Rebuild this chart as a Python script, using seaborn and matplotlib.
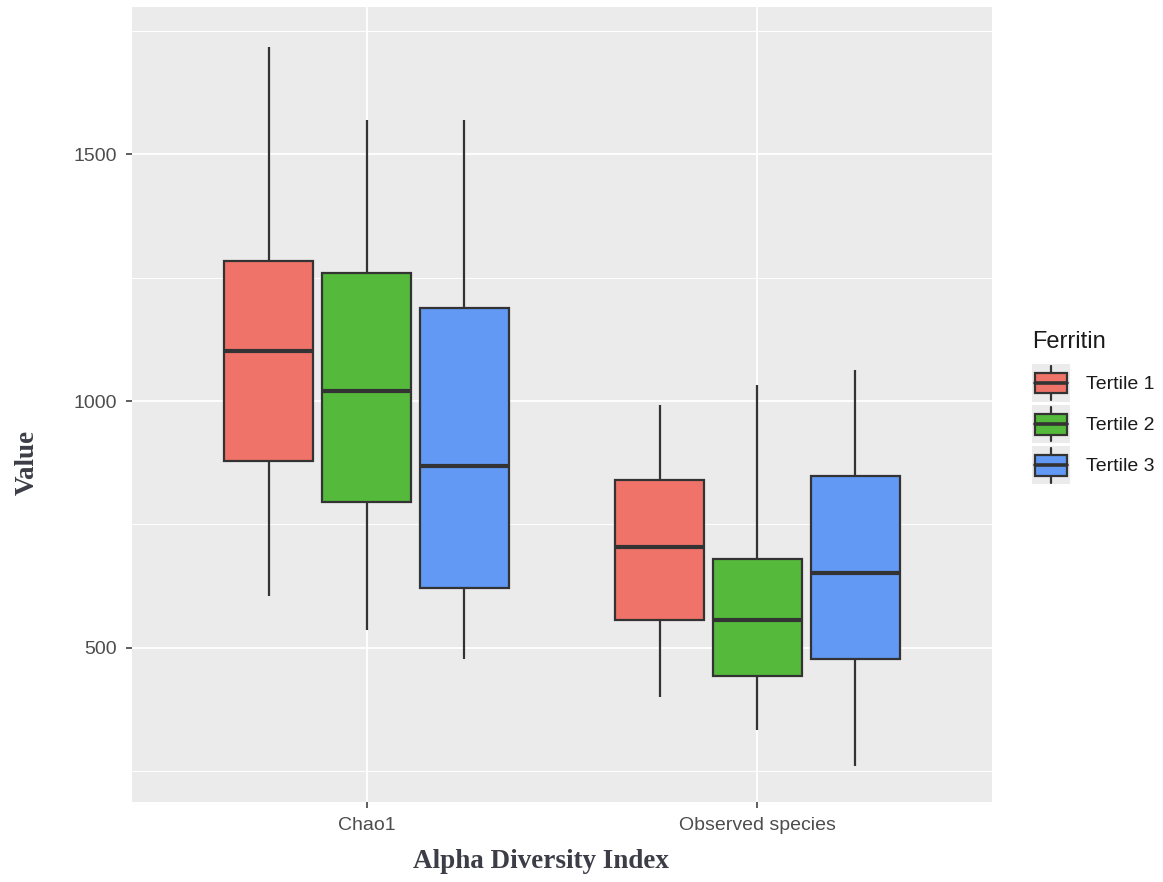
import numpy as np
import pandas as pd
import matplotlib
matplotlib.use("Agg")
import matplotlib.pyplot as plt
from matplotlib.patches import Rectangle, Patch
from matplotlib.lines import Line2D
from matplotlib.legend_handler import HandlerBase
import seaborn as sns

# Alpha diversity summaries per index and ferritin tertile
indices = ["Chao1", "Observed species"]
tertiles = ["Tertile 1", "Tertile 2", "Tertile 3"]

# Five-number summaries, ordered [Chao1 T1, T2, T3, Observed T1, T2, T3]
whisker_low = [606, 536, 477, 401, 333, 261]
q1 = [878, 795, 621, 556, 443, 478]
median = [1102, 1020, 869, 705, 556, 651]
q3 = [1284, 1259, 1189, 840, 680, 849]
whisker_high = [1716, 1570, 1570, 991, 1032, 1063]

palette = ["#F0736A", "#55BA3C", "#6199F5"]
line_col = "#333333"

rows = []
k = 0
for idx in indices:
    for t in tertiles:
        for v in (whisker_low[k], q1[k], median[k], q3[k], whisker_high[k]):
            rows.append({"Index": idx, "Ferritin": t, "Value": v})
        k += 1
df = pd.DataFrame(rows)

sns.set_theme(style="darkgrid")
plt.rcParams["font.family"] = ["Liberation Sans", "DejaVu Sans"]

fig = plt.figure(figsize=(11.63, 8.82), dpi=100)
ax = fig.add_axes([132 / 1163, 1 - 802 / 882, 860 / 1163, 795 / 882])
ax.set_facecolor("#EBEBEB")

sns.boxplot(
    data=df, x="Index", y="Value", hue="Ferritin",
    order=indices, hue_order=tertiles, palette=palette,
    width=0.75, gap=0.09, whis=np.inf, saturation=1,
    linecolor=line_col, linewidth=1.6,
    medianprops={"linewidth": 3.0, "color": line_col},
    whiskerprops={"linewidth": 1.6, "color": line_col},
    capprops={"linewidth": 0},
    legend=False, ax=ax, zorder=3,
)

ax.set_xlim(-0.6, 1.6)
ax.set_ylim(188, 1798)
ax.set_yticks([500, 1000, 1500])
ax.set_yticks([250, 750, 1250, 1750], minor=True)

ax.grid(False)
ax.grid(True, which="major", axis="both", color="white", linewidth=1.3, zorder=0)
ax.grid(True, which="minor", axis="y", color="white", linewidth=0.7, zorder=0)
ax.set_axisbelow(True)
for s in ax.spines.values():
    s.set_visible(False)

ax.tick_params(axis="both", which="major", length=4, width=1.1, color="#333333",
               labelsize=14, labelcolor="#4D4D4D", pad=7, direction="out",
               left=True, bottom=True)
ax.tick_params(axis="both", which="minor", length=0)

title_font = {"family": ["Liberation Serif", "DejaVu Serif"], "weight": "bold",
              "size": 19.5, "color": "#3d3d48"}
ax.set_xlabel("Alpha Diversity Index", fontdict=title_font, va="center")
ax.set_ylabel("Value", fontdict=title_font, va="center")
ax.xaxis.set_label_coords((541 - 132) / 860, -(861 - 802) / 795)
ax.yaxis.set_label_coords(-(132 - 27) / 860, (802 - 462) / 795)


class BoxKeyHandler(HandlerBase):
    """Legend key drawn as a miniature boxplot on a grey tile."""

    def create_artists(self, legend, orig_handle, xdescent, ydescent,
                       width, height, fontsize, trans):
        fc = orig_handle.get_facecolor()
        x0, y0 = -xdescent, -ydescent
        bg = Rectangle((x0, y0), width, height,
                       facecolor="#EBEBEB", edgecolor="none", transform=trans)
        bx0 = x0 + width * 0.08
        bw = width * 0.84
        by0 = y0 + height * 0.23
        bh = height * 0.54
        box = Rectangle((bx0, by0), bw, bh, facecolor=fc,
                        edgecolor=line_col, linewidth=1.6, transform=trans)
        cx = x0 + width / 2
        w_lo = Line2D([cx, cx], [y0 + height * 0.05, by0],
                      color=line_col, linewidth=1.6, transform=trans)
        w_hi = Line2D([cx, cx], [by0 + bh, y0 + height * 0.95],
                      color=line_col, linewidth=1.6, transform=trans)
        med = Line2D([bx0, bx0 + bw], [by0 + bh / 2, by0 + bh / 2],
                     color=line_col, linewidth=2.6, transform=trans)
        return [bg, box, w_lo, w_hi, med]


handles = [Patch(facecolor=c, label=t) for c, t in zip(palette, tertiles)]
leg = fig.legend(
    handles=handles, labels=tertiles, title="Ferritin",
    handler_map={Patch: BoxKeyHandler()},
    loc="upper left", bbox_to_anchor=(1024 / 1163, 1 - 323 / 882),
    frameon=False, fontsize=14, title_fontsize=17,
    handlelength=1.95, handleheight=2.65, labelspacing=0.15,
    handletextpad=0.85, borderaxespad=0,
)
leg.get_title().set_color("#1a1a1a")
leg._legend_box.align = "left"
leg._legend_box.sep = 8
for txt in leg.get_texts():
    txt.set_color("#1a1a1a")

fig.savefig("out.png", dpi=100, facecolor="white")
